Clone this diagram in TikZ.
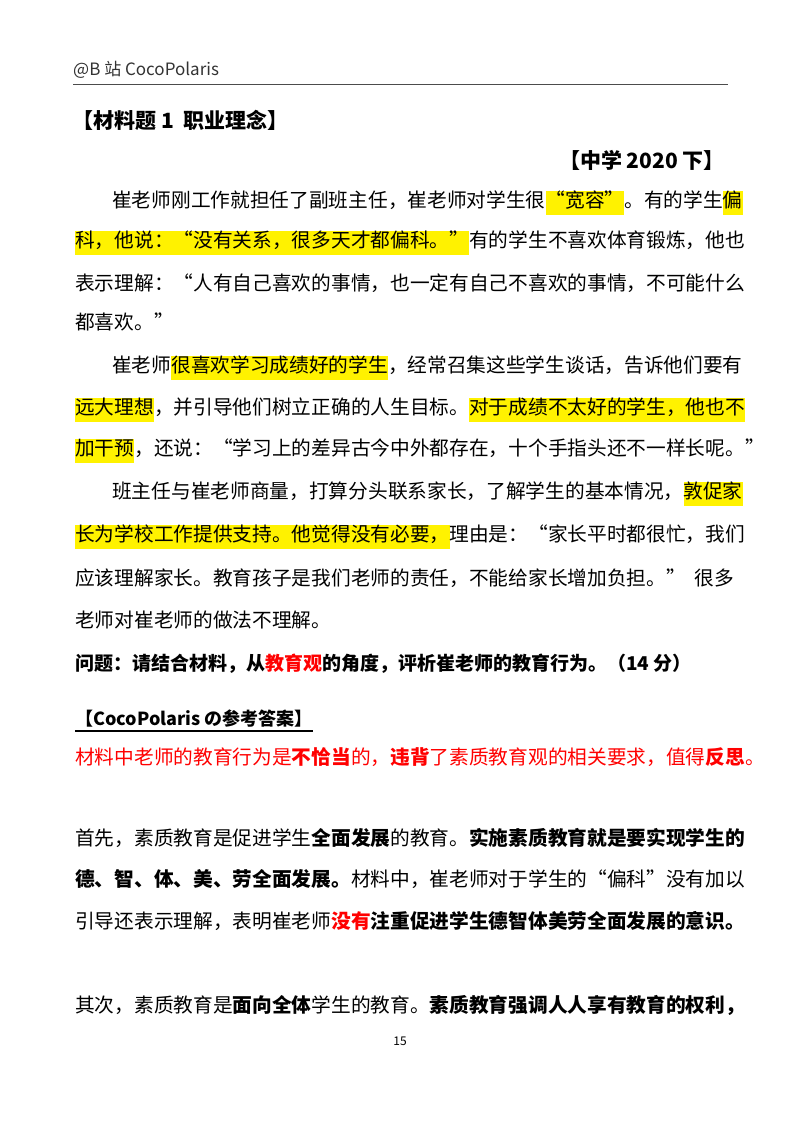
\documentclass[tikz,border=0pt]{standalone}
\usepackage{fontspec}
\usetikzlibrary{calc}
\setmainfont{Noto Sans CJK SC}
\newcommand\hlt[1]{{\setlength\fboxsep{0pt}\colorbox{yellow}{\strut #1}}}
\newcommand\rb[1]{\textcolor{red}{\textbf{#1}}}
\begin{document}
\begin{tikzpicture}[x=1pt,y=-1pt,
  body/.style={anchor=west,inner sep=0pt,font=\fontsize{19.7}{24}\selectfont}]
\useasboundingbox (0,0) rectangle (800,1132);
\node[anchor=west,inner sep=0pt,font=\fontsize{17}{20}\selectfont,text=black!80] (hdr) at (73,70) {@B 站 CocoPolaris};
\draw[black!70,line width=0.8pt] (73,84) -- (728,84);
\node[anchor=west,inner sep=0pt,font=\fontsize{21}{24}\selectfont\bfseries] (title) at (72,120) {【材料题 1\ \ 职业理念】};
\node[anchor=east,inner sep=0pt,font=\fontsize{21}{24}\selectfont\bfseries] (sub) at (725,160) {【中学 2020 下】};
\node[body] (l1) at (112,203) {崔老师刚工作就担任了副班主任，崔老师对学生很\hlt{“宽容”}。有的学生\hlt{偏}};
\node[body] (l2) at (75,243) {\hlt{科，他说：“没有关系，很多天才都偏科。”}有的学生不喜欢体育锻炼，他也};
\node[body] (l3) at (75,283) {表示理解：“人有自己喜欢的事情，也一定有自己不喜欢的事情，不可能什么};
\node[body] (l4) at (75,322) {都喜欢。”};
\node[body] (l5) at (112,368) {崔老师\hlt{很喜欢学习成绩好的学生}，经常召集这些学生谈话，告诉他们要有};
\node[body] (l6) at (75,410) {\hlt{远大理想}，并引导他们树立正确的人生目标。\hlt{对于成绩不太好的学生，他也不}};
\node[body] (l7) at (75,451) {\hlt{加干预}，还说：“学习上的差异古今中外都存在，十个手指头还不一样长呢。”};
\node[body] (l8) at (112,494) {班主任与崔老师商量，打算分头联系家长，了解学生的基本情况，\hlt{敦促家}};
\node[body] (l9) at (75,537) {\hlt{长为学校工作提供支持。他觉得没有必要，}理由是：“家长平时都很忙，我们};
\node[body] (l10) at (75,578) {应该理解家长。教育孩子是我们老师的责任，不能给家长增加负担。” \ 很多};
\node[body] (l11) at (75,620) {老师对崔老师的做法不理解。};
\node[body,font=\fontsize{19}{24}\selectfont\bfseries] (q) at (75,664) {问题：请结合材料，从\textcolor{red}{教育观}的角度，评析崔老师的教育行为。（14 分）};
\node[body,font=\fontsize{18}{22}\selectfont\bfseries] (ah) at (75,719) {【CocoPolaris の参考答案】};
\draw[line width=1.2pt] ($(ah.south west)+(0,3)$) -- ($(ah.south east)+(0,3)$);
\node[body,text=red] (r) at (75,757) {材料中老师的教育行为是\textbf{不恰当}的，\textbf{违背}了素质教育观的相关要求，值得\textbf{反思}。};
\node[body] (p1) at (75,838) {首先，素质教育是促进学生\textbf{全面发展}的教育。\textbf{实施素质教育就是要实现学生的}};
\node[body] (p2) at (75,879) {\textbf{德、智、体、美、劳全面发展。}材料中，崔老师对于学生的“偏科”没有加以};
\node[body] (p3) at (75,921) {引导还表示理解，表明崔老师\rb{没有}\textbf{注重促进学生德智体美劳全面发展的意识。}};
\node[body] (p4) at (75,1005) {其次，素质教育是\textbf{面向全体}学生的教育。\textbf{素质教育强调人人享有教育的权利，}};
\node[inner sep=0pt,font=\fontsize{12}{14}\selectfont] (pg) at (400,1041) {15};
\end{tikzpicture}
\end{document}
